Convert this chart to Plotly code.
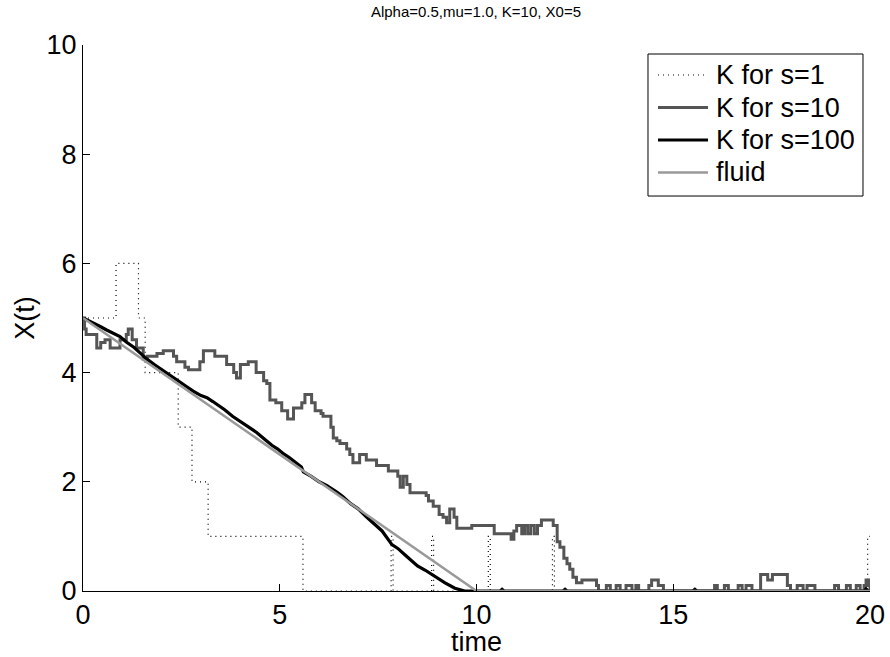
import plotly.graph_objects as go

# s=1 path (step, hv)
t_s1 = [0, 0.84, 1.41, 1.58, 2.42, 2.77, 3.18, 5.59, 7.83, 7.88, 8.86, 8.91,
        10.30, 10.35, 11.93, 11.98, 19.94, 20]
k_s1 = [5, 6, 5, 4, 3, 2, 1, 0, 1, 0, 1, 0, 1, 0, 1, 0, 1, 1]

# s=10 path (step, hv)
t_s10 = [0, 0.04, 0.08, 0.35, 0.45, 0.56, 0.69, 0.94, 1.10, 1.15, 1.25, 1.36,
         1.53, 1.63, 1.88, 2.04, 2.30, 2.38, 2.59, 2.68, 2.97, 3.06, 3.35, 3.48,
         3.65, 3.83, 3.90, 4.00, 4.20, 4.40, 4.59, 4.67, 4.75, 4.90, 5.05, 5.20,
         5.35, 5.56, 5.64, 5.81, 5.90, 6.05, 6.10, 6.30, 6.36, 6.45, 6.53, 6.70,
         6.78, 6.86, 7.03, 7.20, 7.46, 7.76, 8.00, 8.06, 8.14, 8.23, 8.31, 8.72,
         8.78, 8.90, 9.05, 9.15, 9.24, 9.32, 9.43, 9.50, 9.88, 10.45, 10.88,
         10.95, 11.02, 11.15, 11.22, 11.30, 11.38, 11.47, 11.55, 11.65, 11.95,
         12.05, 12.12, 12.22, 12.30, 12.37, 12.45, 12.54, 12.68, 13.05, 13.10,
         13.30, 13.40, 13.55, 13.65, 13.80, 13.95, 14.05, 14.12, 14.38, 14.45,
         14.62, 14.75, 16.05, 16.12, 16.30, 16.40, 16.65, 16.75, 16.85, 17.00,
         17.22, 17.40, 17.52, 17.90, 17.98, 18.15, 18.30, 18.40, 18.60, 19.10,
         19.20, 19.40, 19.50, 19.65, 19.75, 19.85, 19.90, 19.97, 20]
k_s10 = [5.0, 4.8, 4.7, 4.45, 4.55, 4.6, 4.45, 4.6, 4.7, 4.8, 4.6, 4.45,
         4.25, 4.3, 4.35, 4.4, 4.3, 4.2, 4.1, 4.05, 4.2, 4.4, 4.3, 4.3,
         4.15, 4.0, 3.9, 4.15, 4.2, 4.0, 3.85, 3.8, 3.5, 3.45, 3.3, 3.15,
         3.35, 3.45, 3.6, 3.45, 3.3, 3.25, 3.2, 3.0, 2.8, 2.75, 2.7, 2.6,
         2.5, 2.35, 2.5, 2.4, 2.3, 2.2, 2.1, 1.9, 2.1, 1.95, 1.8, 1.75,
         1.65, 1.55, 1.4, 1.35, 1.25, 1.5, 1.35, 1.15, 1.2, 1.05, 0.95,
         1.1, 1.2, 1.05, 1.2, 1.05, 1.2, 1.05, 1.2, 1.3, 1.2,
         0.9, 0.8, 0.6, 0.5, 0.4, 0.25, 0.15, 0.2, 0.1, 0.0,
         0.1, 0.0, 0.1, 0.0, 0.1, 0.0, 0.1, 0.0, 0.1, 0.2,
         0.1, 0.0, 0.1, 0.0, 0.1, 0.0, 0.1, 0.0, 0.1, 0.0,
         0.3, 0.2, 0.3, 0.1, 0.0, 0.1, 0.0, 0.1, 0.0, 0.1,
         0.0, 0.1, 0.0, 0.1, 0.0, 0.1, 0.2, 0.1, 0.0]

# s=100 path
t_s100 = [0, 0.15, 0.3, 0.45, 0.6, 0.8, 0.94, 1.1, 1.3, 1.45, 1.6, 1.83, 2.0,
          2.2, 2.4, 2.6, 2.8, 3.0, 3.15, 3.3, 3.45, 3.6, 3.8, 4.0, 4.2,
          4.42, 4.6, 4.8, 4.95, 5.1, 5.25, 5.43, 5.55, 5.6, 5.8, 6.0, 6.2,
          6.45, 6.6, 6.8, 7.0, 7.2, 7.4, 7.6, 7.85, 8.0, 8.2, 8.35, 8.5,
          8.7, 8.87, 9.05, 9.2, 9.45, 9.7, 10.6, 10.65, 10.7, 12.2, 12.25,
          12.3, 15.5, 15.55, 15.6, 19.85, 19.9, 19.95, 20]
k_s100 = [5.0, 4.95, 4.9, 4.84, 4.78, 4.7, 4.66, 4.56, 4.46, 4.36, 4.26, 4.14,
          4.06, 3.95, 3.86, 3.76, 3.66, 3.58, 3.54, 3.47, 3.4, 3.32, 3.2, 3.1,
          3.0, 2.9, 2.79, 2.67, 2.6, 2.51, 2.44, 2.34, 2.27, 2.18, 2.1, 2.0,
          1.93, 1.81, 1.73, 1.6, 1.5, 1.36, 1.22, 1.1, 0.85, 0.78, 0.65,
          0.55, 0.46, 0.38, 0.3, 0.22, 0.15, 0.05, 0.0, 0.0, 0.03, 0.0,
          0.0, 0.03, 0.0, 0.0, 0.03, 0.0, 0.0, 0.04, 0.0, 0.0]

# fluid solution
t_fluid = [0, 10, 20]
k_fluid = [5, 0, 0]

series_names = ["K for s=1", "K for s=10", "K for s=100", "fluid"]

FONT = "Liberation Sans, Arial, sans-serif"
FS = 27

styles = [
    dict(color="#000000", width=1.2, dash="1px,4px"),
    dict(color="#555555", width=3, dash="solid"),
    dict(color="#000000", width=3.2, dash="solid"),
    dict(color="#999999", width=2.5, dash="solid"),
]

fig = go.Figure()
fig.add_trace(go.Scatter(x=t_s1, y=k_s1, mode="lines", name=series_names[0],
                         line=dict(**styles[0], shape="hv")))
fig.add_trace(go.Scatter(x=t_s10, y=k_s10, mode="lines", name=series_names[1],
                         line=dict(**styles[1], shape="hv")))
fig.add_trace(go.Scatter(x=t_s100, y=k_s100, mode="lines", name=series_names[2],
                         line=dict(**styles[2])))
fig.add_trace(go.Scatter(x=t_fluid, y=k_fluid, mode="lines", name=series_names[3],
                         line=dict(**styles[3])))

# legend box (drawn manually to match row spacing)
leg_x0, leg_x1, leg_y0, leg_y1 = 0.7179, 0.9911, 0.7234, 0.9835
fig.add_shape(type="rect", xref="paper", yref="paper", x0=leg_x0, x1=leg_x1,
              y0=leg_y0, y1=leg_y1, line=dict(color="black", width=1),
              fillcolor="white", layer="above")
row_y = [0.9451, 0.8855, 0.8260, 0.7665]
for name, st, yy in zip(series_names, styles, row_y):
    fig.add_shape(type="line", xref="paper", yref="paper", x0=0.7306, x1=0.7942,
                  y0=yy, y1=yy, line=st, layer="above")
    fig.add_annotation(xref="paper", yref="paper", x=0.8018, y=yy, text=name,
                       showarrow=False, xanchor="left", yanchor="middle",
                       font=dict(size=FS, family=FONT, color="black"))

fig.update_layout(
    width=890, height=657,
    margin=dict(l=83, r=20, t=45, b=66),
    paper_bgcolor="white", plot_bgcolor="white",
    font=dict(family=FONT, color="black", size=FS),
    title=dict(text="Alpha=0.5,mu=1.0, K=10, X0=5", x=0.5348, xanchor="center",
               y=0.9817, yanchor="middle", font=dict(size=15, family=FONT)),
    xaxis=dict(range=[0, 20], tickvals=[0, 5, 10, 15, 20], ticks="inside",
               ticklen=7, tickcolor="black", showline=True, linecolor="black",
               linewidth=1, mirror=False, showgrid=False, zeroline=False,
               automargin=False, ticklabeloverflow="allow",
               title=dict(text="time", standoff=0, font=dict(size=FS)),
               tickfont=dict(size=FS)),
    yaxis=dict(range=[0, 10], tickvals=[0, 2, 4, 6, 8, 10], ticks="inside",
               ticklen=7, tickcolor="black", showline=True, linecolor="black",
               linewidth=1, mirror=False, showgrid=False, zeroline=False,
               automargin=False,
               title=dict(text="X(t)", standoff=4, font=dict(size=FS)),
               tickfont=dict(size=FS)),
    showlegend=False,
)

fig.write_html(
    "out.html",
    config={"displayModeBar": False},
    post_script="document.body.style.margin='0px';document.body.style.overflow='hidden';",
)
